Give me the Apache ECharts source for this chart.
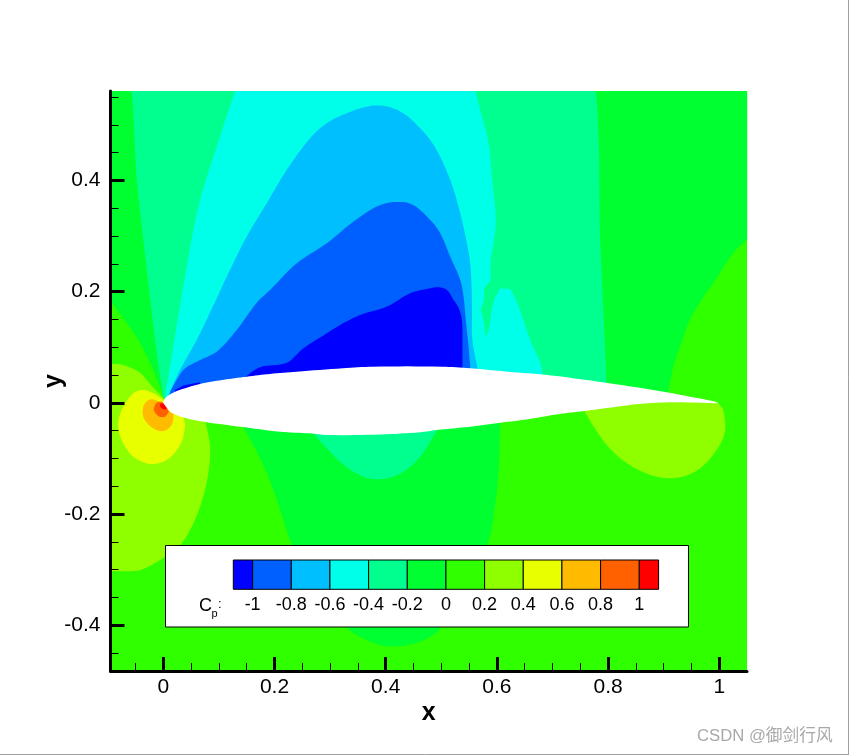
<!DOCTYPE html>
<html><head><meta charset="utf-8">
<style>html,body{margin:0;padding:0;background:#fff}#c{width:849px;height:755px}</style>
<script src="https://cdn.jsdelivr.net/npm/echarts@6/dist/echarts.min.js"></script>
</head><body><div id="c"></div>
<script>
const xMajorTicks=[0,0.2,0.4,0.6,0.8,1];
const xMinorTicks=[-0.05,0.05,0.1,0.15,0.25,0.3,0.35,0.45,0.5,0.55,0.65,0.7,0.75,0.85,0.9,0.95];
const yMajorTicks=[-0.4,-0.2,0,0.2,0.4];
const yMinorTicks=[-0.45,-0.35,-0.3,-0.25,-0.15,-0.1,-0.05,0.05,0.1,0.15,0.25,0.3,0.35,0.45,0.5,0.55];
const legendLabels=[-1,-0.8,-0.6,-0.4,-0.2,0,0.2,0.4,0.6,0.8,1];
const legendEdges=[-1.1,-1,-0.8,-0.6,-0.4,-0.2,0,0.2,0.4,0.6,0.8,1,1.1];
const bandColors=['#0000ff','#0060ff','#00bfff','#00ffe8','#00ff8f','#00ff30','#30ff00','#8fff00','#e8ff00','#ffbb00','#ff6000','#ff0000'];

const base=[[-0.095,0.561],[1.05,0.561],[1.05,-0.4824],[-0.095,-0.4824]];
const upperM02=[[-0.095,0.561],[1.05,0.561],[1.05,0.294],[1.025,0.269],[0.989,0.215],[0.971,0.19],[0.947,0.149],[0.929,0.1],[0.917,0.064],[0.908,0.019],[0.908,0.005],[0,0.002],[0,0.011],[-0.009,0.036],[-0.024,0.072],[-0.042,0.108],[-0.066,0.144],[-0.093,0.18],[-0.095,0.182]];
const lowerM02=[[0.144,-0.044],[0.144,-0.02],[0.606,-0.02],[0.606,-0.036],[0.603,-0.121],[0.597,-0.181],[0.582,-0.256],[0.516,-0.355],[0.498,-0.406],[0.468,-0.427],[0.432,-0.437],[0.396,-0.437],[0.36,-0.424],[0.33,-0.404],[0.282,-0.337],[0.232,-0.256],[0.216,-0.211],[0.198,-0.157],[0.174,-0.1]];
const upperM04=[[-0.057,0.561],[-0.054,0.521],[-0.048,0.406],[-0.036,0.293],[-0.024,0.19],[-0.012,0.09],[0,0.011],[0.005,0.002],[0.8,0.02],[0.797,0.038],[0.793,0.131],[0.789,0.221],[0.785,0.311],[0.784,0.431],[0.781,0.521],[0.778,0.561]];
const lowerM04=[[0.271,-0.056],[0.271,-0.04],[0.492,-0.04],[0.492,-0.05],[0.462,-0.097],[0.432,-0.124],[0.402,-0.136],[0.369,-0.136],[0.342,-0.124],[0.318,-0.106],[0.294,-0.082]];
const bandM06=[[0.129,0.561],[0.102,0.479],[0.063,0.353],[0.036,0.209],[0.015,0.083],[0.003,0.011],[0.01,0.003],[0.68,0.02],[0.682,0.052],[0.678,0.071],[0.66,0.113],[0.639,0.173],[0.625,0.204],[0.606,0.206],[0.594,0.182],[0.585,0.131],[0.58,0.118],[0.576,0.149],[0.571,0.167],[0.576,0.182],[0.577,0.206],[0.589,0.221],[0.589,0.257],[0.594,0.287],[0.598,0.329],[0.591,0.407],[0.585,0.467],[0.573,0.515],[0.561,0.561]];
const bandM08=[[0.009,0.014],[0.03,0.059],[0.06,0.113],[0.089,0.173],[0.117,0.233],[0.15,0.299],[0.186,0.359],[0.222,0.419],[0.264,0.476],[0.294,0.503],[0.33,0.521],[0.372,0.534],[0.402,0.533],[0.426,0.524],[0.45,0.506],[0.486,0.464],[0.516,0.401],[0.534,0.341],[0.546,0.287],[0.552,0.251],[0.555,0.191],[0.556,0.113],[0.565,0.063],[0.565,0.02],[0.015,0.004]];
const bandM10=[[0.012,0.02],[0.036,0.059],[0.06,0.074],[0.096,0.092],[0.132,0.131],[0.168,0.18],[0.192,0.203],[0.24,0.251],[0.294,0.287],[0.342,0.326],[0.384,0.353],[0.414,0.361],[0.447,0.357],[0.48,0.329],[0.498,0.305],[0.516,0.263],[0.534,0.221],[0.54,0.191],[0.544,0.149],[0.549,0.101],[0.552,0.063],[0.552,0.02],[0.015,0.005]];
const sliverBlue=[[0.021,0.023],[0.036,0.031],[0.066,0.037],[0.066,0.02],[0.021,0.01]];
const coreBlue=[[0.148,0.047],[0.174,0.064],[0.222,0.072],[0.252,0.098],[0.294,0.125],[0.318,0.14],[0.354,0.158],[0.402,0.173],[0.444,0.197],[0.48,0.206],[0.495,0.208],[0.51,0.203],[0.522,0.185],[0.531,0.171],[0.537,0.149],[0.538,0.101],[0.538,0.063],[0.538,0.02],[0.148,0.02]];
const leftP04=[[-0.095,0.07],[-0.072,0.068],[-0.042,0.054],[-0.019,0.028],[0,0.009],[0.005,0.002],[0.07,-0.02],[0.076,-0.035],[0.084,-0.079],[0.08,-0.133],[0.066,-0.187],[0.048,-0.229],[0.03,-0.256],[0.003,-0.277],[-0.018,-0.29],[-0.042,-0.301],[-0.063,-0.303],[-0.095,-0.303]];
const tailP04=[[0.758,-0.016],[0.758,0.002],[0.99,0.002],[0.998,-0.001],[1.007,-0.013],[1.01,-0.052],[0.995,-0.085],[0.965,-0.118],[0.929,-0.134],[0.887,-0.133],[0.839,-0.112],[0.803,-0.082],[0.776,-0.046]];
const noseP06=[[-0.003,0.008],[-0.018,0.017],[-0.036,0.023],[-0.054,0.017],[-0.072,-0.007],[-0.081,-0.037],[-0.075,-0.067],[-0.054,-0.097],[-0.024,-0.11],[0.006,-0.103],[0.03,-0.076],[0.039,-0.043],[0.036,-0.026],[0.02,-0.01],[0.003,0]];
const noseP08=[[-0.006,0.002],[-0.024,0.006],[-0.036,-0.007],[-0.035,-0.028],[-0.018,-0.046],[0,-0.051],[0.015,-0.04],[0.019,-0.022],[0.01,-0.005]];
const noseP10=[[-0.003,0.002],[-0.012,0],[-0.017,-0.012],[-0.009,-0.024],[0.003,-0.025],[0.01,-0.016],[0.004,-0.003]];
const noseP12=[[-0.004,-0.001],[-0.006,-0.004],[-0.003,-0.01],[0.003,-0.012],[0.007,-0.009],[0.003,-0.002]];
const airfoil=[[0,0.003],[0.005,0.01],[0.012,0.015],[0.024,0.021],[0.066,0.034],[0.106,0.041],[0.15,0.047],[0.192,0.052],[0.24,0.056],[0.323,0.062],[0.377,0.065],[0.501,0.065],[0.552,0.062],[0.642,0.054],[0.683,0.051],[0.797,0.036],[0.905,0.019],[0.947,0.011],[0.989,0.003],[1,-0.001],[0.914,0.001],[0.857,-0.002],[0.794,-0.01],[0.755,-0.015],[0.713,-0.02],[0.659,-0.029],[0.606,-0.036],[0.552,-0.043],[0.492,-0.049],[0.462,-0.053],[0.39,-0.057],[0.294,-0.058],[0.264,-0.055],[0.21,-0.052],[0.138,-0.043],[0.078,-0.035],[0.042,-0.028],[0.015,-0.018],[0.004,-0.006],[0,0]];

// [outline, colour index (-1 = white), indices of sharp corners; the other vertices lie on smooth contours]
const layers=[
  [base,6,[0,1,2,3]],
  [upperM02,5,[0,1,2,9,10,11,12,17,18]],
  [lowerM02,5,[0,1,2,3]],
  [upperM04,4,[0,6,7,8,9,15]],
  [lowerM04,4,[0,1,2,3]],
  [bandM06,3,[0,5,6,7,8,12,13,16,18,20,21,28]],
  [bandM08,2,[0,22,23,24]],
  [bandM10,1,[0,20,21,22]],
  [sliverBlue,0,[0,1,2,3,4]],
  [coreBlue,0,[0,16,17,18]],
  [leftP04,7,[0,4,5,6,7,17]],
  [tailP04,7,[0,1,2,3]],
  [noseP06,8,[0,12,13,14]],
  [noseP08,9,[0,7,8]],
  [noseP10,10,[0,5,6]],
  [noseP12,11,[0]],
  [airfoil,-1,[19]]
];

function pixelOutline(pts,corners){
  const n=pts.length,out=[],isC=new Set(corners);
  const dist=(a,b)=>Math.hypot(a[0]-b[0],a[1]-b[1]);
  const tangent=(i,j)=>{ // tangent at i for the segment towards j
    const d=dist(pts[i],pts[j]);
    if(isC.has(i)) return [pts[j][0]-pts[i][0],pts[j][1]-pts[i][1]].map(v=>v*(j===(i+1)%n?1:-1));
    const p=pts[(i-1+n)%n],q=pts[(i+1)%n],s=dist(p,pts[i])+dist(pts[i],q)||1;
    return [(q[0]-p[0])*d/s,(q[1]-p[1])*d/s];
  };
  for(let i=0;i<n;i++){
    const j=(i+1)%n,a=pts[i],b=pts[j],ta=tangent(i,j),tb=tangent(j,i);
    const steps=(isC.has(i)&&isC.has(j))?1:8;
    for(let k=0;k<steps;k++){
      const t=k/steps,t2=t*t,t3=t2*t;
      const h00=2*t3-3*t2+1,h10=t3-2*t2+t,h01=-2*t3+3*t2,h11=t3-t2;
      out.push([h00*a[0]+h10*ta[0]+h01*b[0]+h11*tb[0],h00*a[1]+h10*ta[1]+h01*b[1]+h11*tb[1]]);
    }
  }
  return out;
}

const FONT='"Liberation Sans",Arial,sans-serif';
const xMin=-0.095,xMax=1.0498,yMin=-0.4824,yMax=0.5608;
const polySeries=layers.map(([poly,ci,corners],i)=>({
  type:'custom',coordinateSystem:'cartesian2d',xAxisIndex:0,yAxisIndex:0,clip:true,silent:true,z:2+i*0.01,
  data:poly,animation:false,
  renderItem:(params,api)=>params.dataIndex!==0?null:({
    type:'polygon',shape:{points:pixelOutline(poly.map(p=>api.coord(p)),corners)},
    style:{fill:ci<0?'#ffffff':bandColors[ci],stroke:null}
  })
}));
const legendData=bandColors.map((c,i)=>[legendEdges[i],legendEdges[i+1]]);
const legendSeries={
  type:'custom',coordinateSystem:'cartesian2d',xAxisIndex:2,yAxisIndex:2,silent:true,z:20,data:legendData,animation:false,
  encode:{x:[0,1]},
  renderItem:(params,api)=>{
    const a=api.coord([api.value(0),1]),b=api.coord([api.value(1),0]);
    return {type:'rect',shape:{x:a[0],y:a[1],width:b[0]-a[0],height:b[1]-a[1]},style:{fill:bandColors[params.dataIndex],stroke:'#000',lineWidth:1}};
  }
};
const majorAxis=(vals,margin,extra)=>Object.assign({type:'value',gridIndex:0,splitLine:{show:false},z:10,nameMoveOverlap:false,
  axisLine:{show:true,onZero:false,lineStyle:{color:'#000',width:3}},
  axisTick:{show:true,inside:true,length:14,lineStyle:{color:'#000',width:3},customValues:vals},
  axisLabel:{show:true,color:'#000',fontSize:21,fontFamily:FONT,margin:margin,customValues:vals,formatter:v=>String(v)},
  nameTextStyle:{color:'#000',fontSize:25,fontWeight:'bold',fontFamily:FONT}},extra);
const minorAxis=(vals,extra)=>Object.assign({type:'value',gridIndex:0,splitLine:{show:false},z:10,
  axisLine:{show:false,onZero:false},axisLabel:{show:false},
  axisTick:{show:true,inside:true,length:8,lineStyle:{color:'#000',width:1},customValues:vals}},extra);

const chart=echarts.init(document.getElementById('c'),null,{renderer:'canvas'});
chart.setOption({
  animation:false,backgroundColor:'#fff',
  grid:[{left:110.5,top:91,width:636.5,height:580,containLabel:false},{left:233.3,top:560,width:425.3,height:29.3}],
  xAxis:[
    majorAxis(xMajorTicks,6,{position:'bottom',min:xMin,max:xMax,name:'x',nameLocation:'middle',nameGap:30}),
    minorAxis(xMinorTicks,{position:'bottom',min:xMin,max:xMax}),
    {type:'value',gridIndex:1,min:-1.1,max:1.1,position:'bottom',z:21,splitLine:{show:false},axisLine:{show:false},axisTick:{show:false},
     axisLabel:{show:true,color:'#000',fontSize:18,fontFamily:FONT,margin:7,customValues:legendLabels,formatter:v=>String(v)}}
  ],
  yAxis:[
    majorAxis(yMajorTicks,10,{position:'left',min:yMin,max:yMax,name:'y',nameLocation:'middle',nameGap:44}),
    minorAxis(yMinorTicks,{position:'left',min:yMin,max:yMax}),
    {type:'value',gridIndex:1,min:0,max:1,show:false}
  ],
  series:polySeries.concat([legendSeries]),
  graphic:[
    {type:'rect',z:15,silent:true,shape:{x:165.5,y:545.5,width:523,height:81.5},style:{fill:'#fff',stroke:'#000',lineWidth:1}},
    {type:'text',z:22,silent:true,x:199,y:597,style:{text:'C',fontSize:18,fontFamily:FONT,fill:'#000'}},
    {type:'text',z:22,silent:true,x:211.5,y:608,style:{text:'p',fontSize:11,fontFamily:FONT,fill:'#000'}},
    {type:'text',z:22,silent:true,x:218,y:598,style:{text:':',fontSize:13,fontFamily:FONT,fill:'#000'}},
    {type:'text',z:22,silent:true,x:697,y:728,style:{text:'CSDN @御剑行风',fontSize:16.7,fontFamily:'"Liberation Sans","Noto Sans CJK SC",sans-serif',fill:'#a8a8a8'}},
    {type:'line',z:22,silent:true,shape:{x1:0,y1:754.5,x2:849,y2:754.5},style:{stroke:'#a0a0a0',lineWidth:1}},
    {type:'line',z:22,silent:true,shape:{x1:848.5,y1:0,x2:848.5,y2:755},style:{stroke:'#a0a0a0',lineWidth:1}}
  ]
});
</script></body></html>
